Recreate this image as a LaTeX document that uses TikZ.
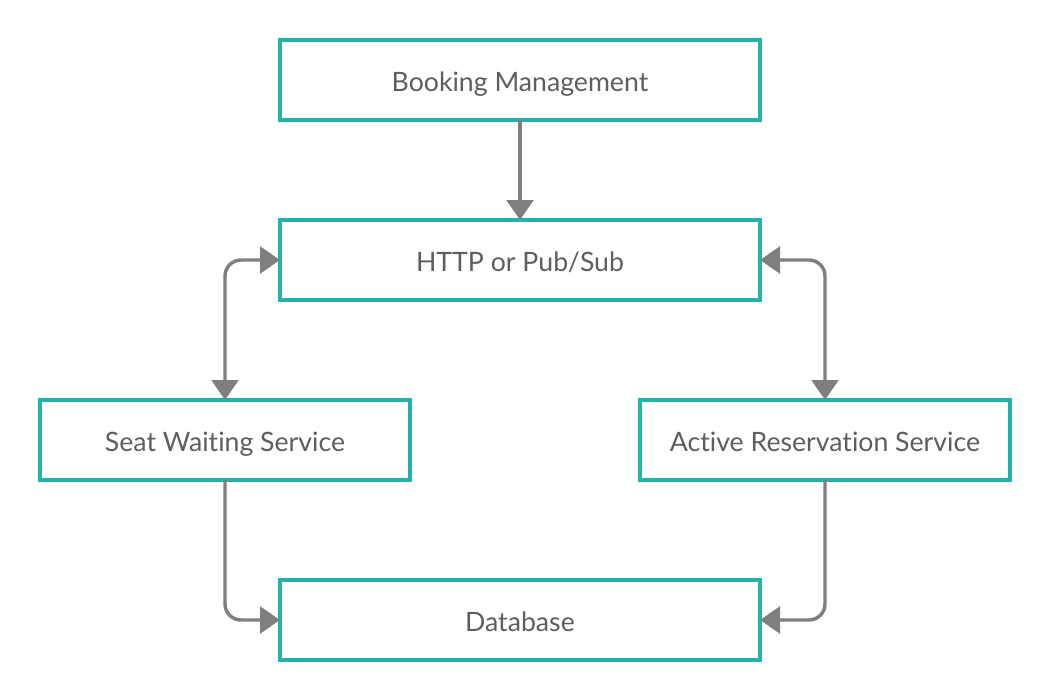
\documentclass[tikz,border=0pt]{standalone}
\usepackage{fontspec}
\setmainfont{Lato}[Ligatures=NoCommon]
\usetikzlibrary{arrows.meta}
\definecolor{teal1}{HTML}{21B3AB}
\definecolor{txt}{HTML}{5E5E5E}
\definecolor{conn}{HTML}{7F7F7F}
\tikzset{
  box/.style={draw=teal1, line width=2.4pt, fill=white, minimum height=60pt, inner sep=0pt, outer sep=0pt, text=txt, text height=16.5pt, text depth=0pt, font=\fontsize{20}{24}\selectfont},
  conn/.style={draw=conn, line width=2.6pt, rounded corners=12pt, -{Triangle[length=15pt,width=20pt]}},
  bconn/.style={conn, {Triangle[length=15pt,width=20pt]}-{Triangle[length=15pt,width=20pt]}}
}
\begin{document}
\begin{tikzpicture}[x=0.75pt,y=-0.75pt]
\useasboundingbox (0,0) rectangle (1050,700);
\node[box, minimum width=360pt] (bm) at (520,80) {Booking Management};
\node[box, minimum width=360pt] (http) at (520,260) {HTTP or Pub/Sub};
\node[box, minimum width=277.5pt] (seat) at (225,440) {Seat Waiting Service};
\node[box, minimum width=277.5pt] (act) at (825,440) {Active Reservation Service};
\node[box, minimum width=360pt] (db) at (520,620) {Database};
\draw[conn] (bm.south) -- (http.north);
\draw[bconn] (http.west) -| (seat.north);
\draw[bconn] (http.east) -| (act.north);
\draw[conn] (seat.south) |- (db.west);
\draw[conn] (act.south) |- (db.east);
\end{tikzpicture}
\end{document}
